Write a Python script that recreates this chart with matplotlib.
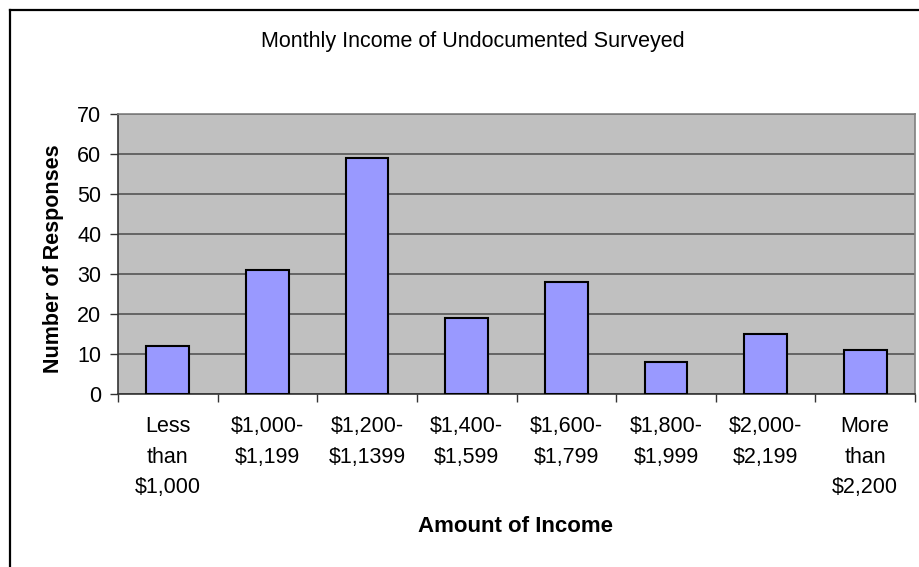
import matplotlib.pyplot as plt
import numpy as np
from matplotlib.lines import Line2D

plt.rcParams["font.family"] = ["Liberation Sans", "DejaVu Sans"]

categories = ["Less\nthan\n$1,000", "$1,000-\n$1,199", "$1,200-\n$1,1399", "$1,400-\n$1,599",
              "$1,600-\n$1,799", "$1,800-\n$1,999", "$2,000-\n$2,199", "More\nthan\n$2,200"]
responses = [12, 31, 59, 19, 28, 8, 15, 11]
y_ticks = [0, 10, 20, 30, 40, 50, 60, 70]

fig = plt.figure(figsize=(9.2, 5.67), dpi=100)
ax = fig.add_axes([118 / 920, 1 - 394 / 567, (915 - 118) / 920, (394 - 114) / 567])
ax.set_facecolor("#c0c0c0")

x = np.arange(len(categories))
ax.bar(x, responses, width=0.43, color="#9999ff", edgecolor="black", linewidth=1.5, zorder=3)

ax.set_xlim(-0.5, len(categories) - 0.5)
ax.set_ylim(0, 70)
ax.set_yticks(y_ticks)
ax.yaxis.grid(True, color="#555555", linewidth=1.2, zorder=1)
ax.set_axisbelow(True)

# tick marks sit between categories, labels sit under the bars
ax.set_xticks(np.arange(len(categories) + 1) - 0.5)
ax.set_xticklabels([])
ax.set_xticks(x, minor=True)
ax.set_xticklabels(categories, minor=True, fontsize=15.5, linespacing=1.6, va="top")
ax.tick_params(axis="x", which="minor", length=0, pad=16)
ax.tick_params(axis="x", which="major", length=6, width=1, color="#333333")
ax.tick_params(axis="y", length=6, width=1, color="#333333", pad=6, labelsize=15.5)

for side in ["top", "right"]:
    ax.spines[side].set_color("#808080")
    ax.spines[side].set_linewidth(1.2)
for side in ["left", "bottom"]:
    ax.spines[side].set_color("#333333")
    ax.spines[side].set_linewidth(1.2)

fig.text(473 / 920, 1 - 41 / 567, "Monthly Income of Undocumented Surveyed",
         ha="center", va="center", fontsize=15.5)
fig.text(515 / 920, 1 - 526 / 567, "Amount of Income",
         ha="center", va="center", fontsize=16, fontweight="bold")
fig.text(54 / 920, 1 - 259 / 567, "Number of Responses",
         ha="center", va="center", rotation=90, fontsize=15.5, fontweight="bold")

# chart frame along the left and top edges
fig.add_artist(Line2D([10 / 920, 10 / 920], [0, 1 - 10 / 567], color="black", linewidth=1.6,
                      transform=fig.transFigure))
fig.add_artist(Line2D([10 / 920, 1], [1 - 10 / 567, 1 - 10 / 567], color="black", linewidth=1.6,
                      transform=fig.transFigure))

fig.savefig("out.png", dpi=100)
